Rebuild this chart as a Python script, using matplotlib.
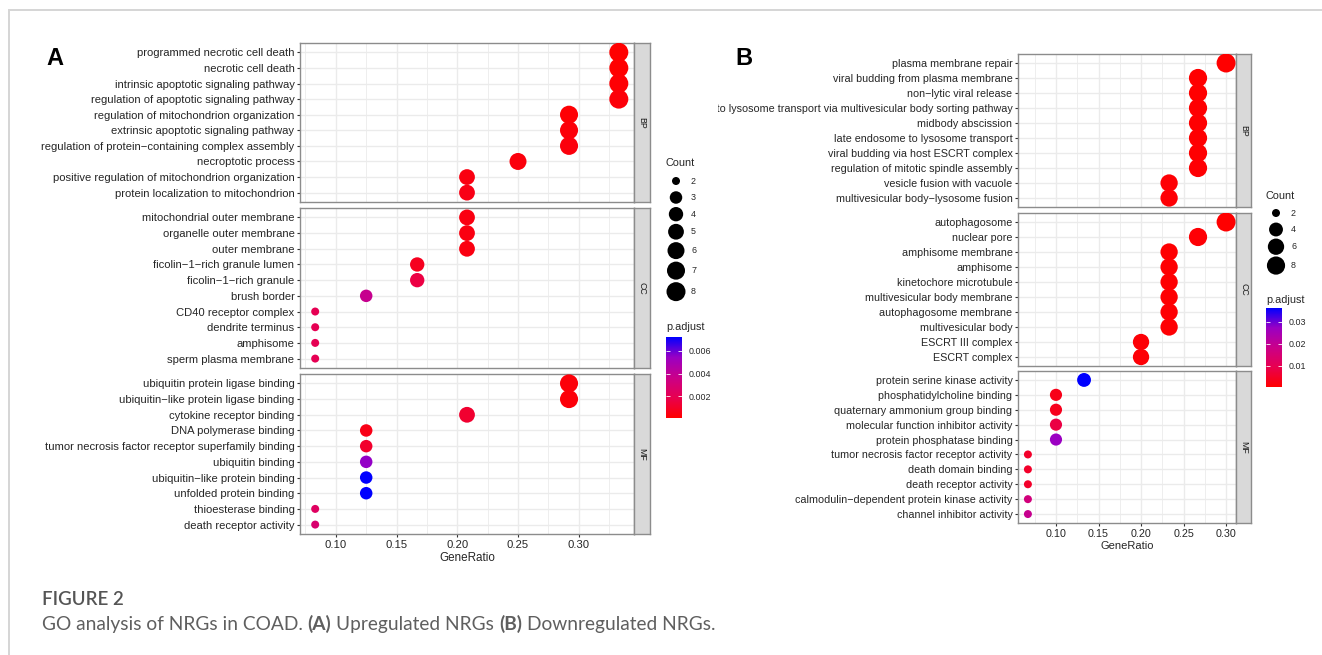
"""GO dotplots (up / down regulated NRGs) redrawn in matplotlib."""
import numpy as np
import matplotlib
matplotlib.use("Agg")
import matplotlib.pyplot as plt
from matplotlib.colors import LinearSegmentedColormap, Normalize
from matplotlib.cm import ScalarMappable
from matplotlib.ticker import MultipleLocator
from matplotlib.transforms import Bbox

W, H, DPI = 1322, 655, 100
FONT = ["Liberation Sans", "DejaVu Sans"]
plt.rcParams["font.family"] = FONT

# ── panel A: upregulated NRGs ────────────────────────────────────────────────
A_BP_TERMS = ["programmed necrotic cell death", "necrotic cell death",
              "intrinsic apoptotic signaling pathway", "regulation of apoptotic signaling pathway",
              "regulation of mitochondrion organization", "extrinsic apoptotic signaling pathway",
              "regulation of protein\u2212containing complex assembly", "necroptotic process",
              "positive regulation of mitochondrion organization", "protein localization to mitochondrion"]
A_BP_RATIO = [0.333, 0.333, 0.333, 0.333, 0.292, 0.292, 0.292, 0.250, 0.208, 0.208]
A_BP_COUNT = [8, 8, 8, 8, 7, 7, 7, 6, 5, 5]
A_BP_PADJ = [0.0001, 0.0001, 0.0002, 0.0003, 0.0002, 0.0003, 0.0004, 0.0004, 0.0005, 0.0006]

A_CC_TERMS = ["mitochondrial outer membrane", "organelle outer membrane", "outer membrane",
              "ficolin\u22121\u2212rich granule lumen", "ficolin\u22121\u2212rich granule", "brush border",
              "CD40 receptor complex", "dendrite terminus", "amphisome", "sperm plasma membrane"]
A_CC_RATIO = [0.208, 0.208, 0.208, 0.167, 0.167, 0.125, 0.083, 0.083, 0.083, 0.083]
A_CC_COUNT = [5, 5, 5, 4, 4, 3, 2, 2, 2, 2]
A_CC_PADJ = [0.0005, 0.0005, 0.0005, 0.0008, 0.0016, 0.0038, 0.0020, 0.0020, 0.0020, 0.0020]

A_MF_TERMS = ["ubiquitin protein ligase binding", "ubiquitin\u2212like protein ligase binding",
              "cytokine receptor binding", "DNA polymerase binding",
              "tumor necrosis factor receptor superfamily binding", "ubiquitin binding",
              "ubiquitin\u2212like protein binding", "unfolded protein binding",
              "thioesterase binding", "death receptor activity"]
A_MF_RATIO = [0.292, 0.292, 0.208, 0.125, 0.125, 0.125, 0.125, 0.125, 0.083, 0.083]
A_MF_COUNT = [7, 7, 5, 3, 3, 3, 3, 3, 2, 2]
A_MF_PADJ = [0.0003, 0.0003, 0.0012, 0.0006, 0.0011, 0.0055, 0.0072, 0.0072, 0.0024, 0.0028]

# ── panel B: downregulated NRGs ──────────────────────────────────────────────
B_BP_TERMS = ["plasma membrane repair", "viral budding from plasma membrane", "non\u2212lytic viral release",
              "late endosome to lysosome transport via multivesicular body sorting pathway",
              "midbody abscission", "late endosome to lysosome transport",
              "viral budding via host ESCRT complex", "regulation of mitotic spindle assembly",
              "vesicle fusion with vacuole", "multivesicular body\u2212lysosome fusion"]
B_BP_RATIO = [0.300, 0.267, 0.267, 0.267, 0.267, 0.267, 0.267, 0.267, 0.233, 0.233]
B_BP_COUNT = [9, 8, 8, 8, 8, 8, 8, 8, 7, 7]
B_BP_PADJ = [0.0002, 0.0004, 0.0004, 0.0005, 0.0005, 0.0006, 0.0006, 0.0007, 0.0008, 0.0008]

B_CC_TERMS = ["autophagosome", "nuclear pore", "amphisome membrane", "amphisome",
              "kinetochore microtubule", "multivesicular body membrane", "autophagosome membrane",
              "multivesicular body", "ESCRT III complex", "ESCRT complex"]
B_CC_RATIO = [0.300, 0.267, 0.233, 0.233, 0.233, 0.233, 0.233, 0.233, 0.200, 0.200]
B_CC_COUNT = [9, 8, 7, 7, 7, 7, 7, 7, 6, 6]
B_CC_PADJ = [0.0003, 0.0008, 0.0005, 0.0005, 0.0006, 0.0006, 0.0007, 0.0007, 0.0010, 0.0010]

B_MF_TERMS = ["protein serine kinase activity", "phosphatidylcholine binding",
              "quaternary ammonium group binding", "molecular function inhibitor activity",
              "protein phosphatase binding", "tumor necrosis factor receptor activity",
              "death domain binding", "death receptor activity",
              "calmodulin\u2212dependent protein kinase activity", "channel inhibitor activity"]
B_MF_RATIO = [0.133, 0.100, 0.100, 0.100, 0.100, 0.067, 0.067, 0.067, 0.067, 0.067]
B_MF_COUNT = [4, 3, 3, 3, 3, 2, 2, 2, 2, 2]
B_MF_PADJ = [0.0363, 0.0030, 0.0035, 0.0080, 0.0270, 0.0050, 0.0050, 0.0050, 0.0160, 0.0190]

A_COUNT_BREAKS = [2, 3, 4, 5, 6, 7, 8]
B_COUNT_BREAKS = [2, 4, 6, 8]
A_PADJ_TICKS = [0.002, 0.004, 0.006]
B_PADJ_TICKS = [0.01, 0.02, 0.03]
X_TICKS = [0.10, 0.15, 0.20, 0.25, 0.30]

# ── layout (pixels, origin top-left) ─────────────────────────────────────────
LAYOUT_A = dict(x=(300, 634), strip=16, rows=[(43, 202), (208, 368), (374, 534)],
                font=8.1,
                leg_x=666, count_title_y=163, key0=181, key_pad=2.5,
                padj_title_y=327, bar=(337, 418))
LAYOUT_B = dict(x=(1018, 1236), strip=15, rows=[(54, 207), (213, 366), (371, 523)],
                font=7.75, clip_left=718,
                leg_x=1266, count_title_y=196, key0=213, key_pad=1.6,
                padj_title_y=300, bar=(308, 387))
SIZE_PX = (8.0, 19.0)
KEY_MIN = 16.5
TEXT_C = "#262626"
BORDER_C = "#8C8C8C"
GRID_C = "#EBEBEB"

CMAP = LinearSegmentedColormap.from_list(
    "padj", ["#FF0000", "#E8004F", "#CA0089", "#9A00C3", "#0000FF"])


def px_axes(fig, left, top, right, bottom):
    return fig.add_axes([left / W, 1 - bottom / H, (right - left) / W, (bottom - top) / H])


def dot_diam(count, cmin, cmax):
    return SIZE_PX[0] + (SIZE_PX[1] - SIZE_PX[0]) * np.sqrt((count - cmin) / (cmax - cmin))


def area(d_px):
    return (d_px * 72 / DPI) ** 2


def draw_panel(fig, lay, groups, norm, cmin, cmax):
    left, right = lay["x"]
    ratios = np.concatenate([g[2] for g in groups])
    lo, hi = ratios.min(), ratios.max()
    pad = 0.05 * (hi - lo)
    clip = None
    if "clip_left" in lay:
        clip = Bbox([[lay["clip_left"], 0], [W, H]])
    for i, (ont, terms, ratio, count, padj) in enumerate(groups):
        top, bottom = lay["rows"][i]
        ax = px_axes(fig, left, top, right, bottom)
        y = np.arange(len(terms))
        sizes = [area(dot_diam(c, cmin, cmax)) for c in count]
        ax.scatter(ratio, y, s=sizes, c=padj, cmap=CMAP, norm=norm, linewidths=0, zorder=3)
        ax.set_xlim(lo - pad, hi + pad)
        ax.set_ylim(len(terms) - 0.4, -0.6)
        ax.set_yticks(y)
        ax.set_yticklabels(terms)
        ax.set_xticks(X_TICKS)
        ax.xaxis.set_minor_locator(MultipleLocator(0.025))
        ax.grid(which="major", color=GRID_C, lw=1.0, zorder=0)
        ax.grid(which="minor", axis="x", color=GRID_C, lw=0.6, zorder=0)
        ax.set_axisbelow(True)
        for sp in ax.spines.values():
            sp.set_color(BORDER_C)
            sp.set_linewidth(1.0)
        ax.tick_params(axis="y", length=2.5, width=0.8, color="#333333", pad=1.5,
                       labelsize=lay["font"], labelcolor=TEXT_C)
        ax.tick_params(axis="x", which="minor", length=0)
        if i < len(groups) - 1:
            ax.tick_params(axis="x", length=0, labelbottom=False)
        else:
            ax.tick_params(axis="x", length=2.5, width=0.8, color="#333333", pad=2,
                           labelsize=lay["font"], labelcolor=TEXT_C)
            ax.set_xticklabels([f"{t:.2f}" for t in X_TICKS])
            ax.set_xlabel("GeneRatio", fontsize=lay["font"] + 0.3, color=TEXT_C, labelpad=1)
        if clip is not None:
            for lab in ax.get_yticklabels():
                lab.set_clip_on(True)
                lab.set_clip_box(clip)

        sax = px_axes(fig, right, top, right + lay["strip"], bottom)
        sax.set_facecolor("#D9D9D9")
        sax.set_xticks([])
        sax.set_yticks([])
        for sp in sax.spines.values():
            sp.set_color(BORDER_C)
            sp.set_linewidth(1.0)
        sax.text(0.5, 0.5, ont, rotation=-90, ha="center", va="center",
                 fontsize=6.3, color="#1A1A1A", transform=sax.transAxes)


def draw_legends(fig, over, lay, breaks, cmin, cmax, norm, ticks):
    x0 = lay["leg_x"]
    over.text(x0, lay["count_title_y"], "Count", fontsize=7.8, color=TEXT_C, va="center")
    diams = [dot_diam(c, cmin, cmax) for c in breaks]
    keys = [max(KEY_MIN, d + lay["key_pad"]) for d in diams]
    ys = [lay["key0"]]
    for k0, k1 in zip(keys[:-1], keys[1:]):
        ys.append(ys[-1] + (k0 + k1) / 2)
    over.scatter([x0 + 10] * len(breaks), ys, s=[area(d) for d in diams],
                 color="black", linewidths=0)
    for c, yy in zip(breaks, ys):
        over.text(x0 + 25, yy, str(c), fontsize=6.4, color=TEXT_C, va="center")

    over.text(x0, lay["padj_title_y"], "p.adjust", fontsize=7.8, color=TEXT_C, va="center")
    btop, bbot = lay["bar"]
    cax = px_axes(fig, x0, btop, x0 + 16, bbot)
    cb = fig.colorbar(ScalarMappable(norm=norm, cmap=CMAP), cax=cax)
    cb.outline.set_visible(False)
    cb.set_ticks(ticks)
    cb.set_ticklabels([f"{t:g}" if t >= 0.01 else f"{t:.3f}" for t in ticks])
    cax.tick_params(which="both", left=True, right=True, direction="in", length=3,
                    width=0.6, color="white", labelsize=6.4, labelcolor=TEXT_C, pad=5)
    cax.minorticks_off()


fig = plt.figure(figsize=(W / DPI, H / DPI), dpi=DPI)
fig.patch.set_facecolor("white")

groups_a = [("BP", A_BP_TERMS, np.array(A_BP_RATIO), A_BP_COUNT, A_BP_PADJ),
            ("CC", A_CC_TERMS, np.array(A_CC_RATIO), A_CC_COUNT, A_CC_PADJ),
            ("MF", A_MF_TERMS, np.array(A_MF_RATIO), A_MF_COUNT, A_MF_PADJ)]
groups_b = [("BP", B_BP_TERMS, np.array(B_BP_RATIO), B_BP_COUNT, B_BP_PADJ),
            ("CC", B_CC_TERMS, np.array(B_CC_RATIO), B_CC_COUNT, B_CC_PADJ),
            ("MF", B_MF_TERMS, np.array(B_MF_RATIO), B_MF_COUNT, B_MF_PADJ)]

padj_a = np.concatenate([g[4] for g in groups_a])
padj_b = np.concatenate([g[4] for g in groups_b])
norm_a = Normalize(padj_a.min(), padj_a.max())
norm_b = Normalize(padj_b.min(), padj_b.max())
cnt_a = np.concatenate([g[3] for g in groups_a])
cnt_b = np.concatenate([g[3] for g in groups_b])

draw_panel(fig, LAYOUT_A, groups_a, norm_a, cnt_a.min(), cnt_a.max())
draw_panel(fig, LAYOUT_B, groups_b, norm_b, cnt_b.min(), cnt_b.max())

# overlay in pixel coordinates for legends, frame and caption
over = fig.add_axes([0, 0, 1, 1])
over.set_xlim(0, W)
over.set_ylim(H, 0)
over.axis("off")

draw_legends(fig, over, LAYOUT_A, A_COUNT_BREAKS, cnt_a.min(), cnt_a.max(), norm_a, A_PADJ_TICKS)
draw_legends(fig, over, LAYOUT_B, B_COUNT_BREAKS, cnt_b.min(), cnt_b.max(), norm_b, B_PADJ_TICKS)

over.plot([9, 9, W], [H, 10, 10], color="#D5D5D5", lw=1.4, solid_joinstyle="miter")
over.text(46, 65, "A", fontsize=17, fontweight="bold", color="black")
over.text(735, 65, "B", fontsize=17, fontweight="bold", color="black")

cap_font = ["Lato", "DejaVu Sans"]
CAP_SIZE = 13.8
over.text(42, 605, "FIGURE 2", fontsize=13.5, color="#555555", family=cap_font,
          fontweight="semibold")
renderer = fig.canvas.get_renderer()


def text_w(s, weight):
    t = over.text(0, 0, s, fontsize=CAP_SIZE, family=cap_font, fontweight=weight)
    w = t.get_window_extent(renderer).width
    t.remove()
    return w


space = text_w("x x", "normal") - text_w("xx", "normal")
segments = [("GO analysis of NRGs in COAD.", "normal"), ("(A)", "bold"),
            ("Upregulated NRGs", "normal"), ("(B)", "bold"), ("Downregulated NRGs.", "normal")]
xx = 42
for s, wgt in segments:
    over.text(xx, 630, s, fontsize=CAP_SIZE, family=cap_font, fontweight=wgt, color="#5F5F5F")
    xx += text_w(s, wgt) + space

fig.savefig("out.png", dpi=DPI)
